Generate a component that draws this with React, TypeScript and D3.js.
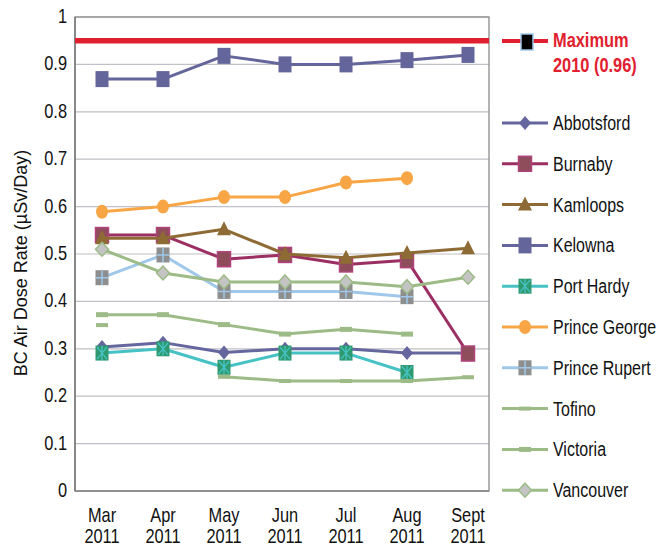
import * as d3 from "d3";

const months = ["Mar", "Apr", "May", "Jun", "Jul", "Aug", "Sept"];
const year = "2011";
const yTicks = [0, 0.1, 0.2, 0.3, 0.4, 0.5, 0.6, 0.7, 0.8, 0.9, 1];

const maximum2010 = 0.95;
const maximumLabel = ["Maximum", "2010 (0.96)"];

const abbotsford = [0.304, 0.313, 0.292, 0.3, 0.3, 0.291, 0.291];
const burnaby = [0.54, 0.54, 0.489, 0.498, 0.478, 0.487, 0.29];
const kamloops = [0.533, 0.533, 0.552, 0.5, 0.492, 0.502, 0.512];
const kelowna = [0.869, 0.869, 0.918, 0.9, 0.9, 0.909, 0.92];
const portHardy = [0.291, 0.3, 0.261, 0.291, 0.291, 0.25, null];
const princeGeorge = [0.589, 0.6, 0.62, 0.62, 0.651, 0.66, null];
const princeRupert = [0.45, 0.498, 0.421, 0.421, 0.421, 0.41, null];
const tofino = [0.35, null, 0.241, 0.232, 0.232, 0.232, 0.24];
const victoria = [0.372, 0.372, 0.351, 0.331, 0.341, 0.331, null];
const vancouver = [0.51, 0.46, 0.441, 0.441, 0.441, 0.431, 0.451];

type Marker = "diamond" | "square" | "triangle" | "squareX" | "circle" | "squarePlus" | "dash" | "dashBig" | "grayDiamond";

const series: { name: string; values: (number | null)[]; color: string; marker: Marker }[] = [
  { name: "Abbotsford", values: abbotsford, color: "#65669d", marker: "diamond" },
  { name: "Burnaby", values: burnaby, color: "#9c2f62", marker: "square" },
  { name: "Kamloops", values: kamloops, color: "#8e6b35", marker: "triangle" },
  { name: "Kelowna", values: kelowna, color: "#64659b", marker: "square" },
  { name: "Port Hardy", values: portHardy, color: "#46c2c4", marker: "squareX" },
  { name: "Prince George", values: princeGeorge, color: "#f8a545", marker: "circle" },
  { name: "Prince Rupert", values: princeRupert, color: "#9fc8ea", marker: "squarePlus" },
  { name: "Tofino", values: tofino, color: "#9dbb86", marker: "dash" },
  { name: "Victoria", values: victoria, color: "#9dbb86", marker: "dashBig" },
  { name: "Vancouver", values: vancouver, color: "#9dbb86", marker: "grayDiamond" },
];

const font = "'Liberation Sans', Arial, sans-serif";

// no narrow face installed, so squeeze Liberation Sans horizontally
function NarrowText(props: { x: number; y: number; size: number; anchor?: string; fill?: string; bold?: boolean; children: any }) {
  const { x, y, size, anchor = "start", fill = "#111", bold = false } = props;
  return (
    <g transform={`translate(${x},${y}) scale(0.82,1)`}>
      <text textAnchor={anchor} fontFamily={font} fontSize={size} fill={fill} fontWeight={bold ? "bold" : "normal"}>
        {props.children}
      </text>
    </g>
  );
}

function MarkerShape({ type, name, x, y, color }: { type: Marker; name: string; x: number; y: number; color: string }) {
  switch (type) {
    case "diamond":
      return <polygon points={`${x},${y - 7} ${x + 6},${y} ${x},${y + 7} ${x - 6},${y}`} fill={color} />;
    case "square":
      if (name === "Burnaby")
        return <rect x={x - 6.5} y={y - 7.5} width={13} height={15} fill="#8f4d5c" stroke="#b0437c" strokeWidth={1.5} />;
      return <rect x={x - 6.5} y={y - 8} width={13} height={16} fill={color} />;
    case "triangle":
      return <polygon points={`${x},${y - 8} ${x + 7},${y + 6} ${x - 7},${y + 6}`} fill={color} />;
    case "squareX":
      return (
        <g>
          <rect x={x - 6.5} y={y - 7.5} width={13} height={15} fill="#2f9a70" />
          <path d={`M${x - 5},${y - 6}L${x + 5},${y + 6}M${x + 5},${y - 6}L${x - 5},${y + 6}M${x},${y - 7}V${y + 7}`} stroke={color} strokeWidth={1.3} />
        </g>
      );
    case "circle":
      return <ellipse cx={x} cy={y} rx={6} ry={7} fill={color} />;
    case "squarePlus":
      return (
        <g>
          <rect x={x - 6.5} y={y - 7.5} width={13} height={15} fill="#8e8e8e" />
          <path d={`M${x - 6},${y}H${x + 6}M${x},${y - 7}V${y + 7}`} stroke={color} strokeWidth={1.5} />
        </g>
      );
    case "dash":
      return <rect x={x - 6} y={y - 2} width={12} height={4} fill={color} />;
    case "dashBig":
      return <rect x={x - 6} y={y - 2.5} width={12} height={5} fill={color} />;
    case "grayDiamond":
      return <polygon points={`${x},${y - 7} ${x + 6.5},${y} ${x},${y + 7} ${x - 6.5},${y}`} fill="#c4c4c4" stroke={color} strokeWidth={1.5} />;
  }
}

export default function App() {
  const width = 659;
  const height = 546;
  const plotLeft = 75;
  const plotRight = 489;
  const plotTop = 17;
  const plotBottom = 491;

  const x = d3.scalePoint<string>().domain(months).range([plotLeft + 27, plotRight - 21]);
  const y = d3.scaleLinear().domain([0, 1]).range([plotBottom, plotTop]);

  const line = d3
    .line<number | null>()
    .defined((d) => d != null)
    .x((_, i) => x(months[i]) as number)
    .y((d) => y(d as number));

  const legendX = 502;
  const legendY0 = 123;
  const legendStep = 40.8;

  return (
    <svg width={width} height={height} style={{ position: "fixed", left: 0, top: 0, background: "#fff" }}>
      {/* grid */}
      {yTicks.map((t) => (
        <g key={t}>
          <line x1={plotLeft} x2={plotRight} y1={y(t)} y2={y(t)} stroke={t === 0 ? "#7a7a7a" : "#c0c0c6"} strokeWidth={t === 0 ? 1.5 : 1.2} />
          <NarrowText x={67} y={y(t) + 6} size={20} anchor="end">
            {d3.format("~g")(t)}
          </NarrowText>
        </g>
      ))}
      <rect x={plotLeft} y={plotTop} width={plotRight - plotLeft} height={plotBottom - plotTop} fill="none" stroke="#8a8a8a" strokeWidth={1.3} />
      <line x1={plotLeft} x2={plotLeft} y1={plotTop} y2={plotBottom} stroke="#7a7a7a" strokeWidth={1.5} />

      <g transform={`translate(27,263) rotate(-90)`}>
        <text textAnchor="middle" fontFamily={font} fontSize={18} fill="#111">
          BC Air Dose Rate (µSv/Day)
        </text>
      </g>

      {months.map((m) => (
        <g key={m}>
          <NarrowText x={x(m) as number} y={522} size={20} anchor="middle">
            {m}
          </NarrowText>
          <NarrowText x={x(m) as number} y={543} size={20} anchor="middle">
            {year}
          </NarrowText>
        </g>
      ))}

      {/* maximum 2010 */}
      <line x1={plotLeft} x2={plotRight} y1={y(maximum2010)} y2={y(maximum2010)} stroke="#e0202e" strokeWidth={5.5} />

      {series.map((s) => (
        <g key={s.name}>
          <path d={line(s.values) ?? ""} fill="none" stroke={s.color} strokeWidth={3} strokeLinejoin="round" />
          {s.values.map((v, i) =>
            v == null ? null : <MarkerShape key={i} type={s.marker} name={s.name} x={x(months[i]) as number} y={y(v)} color={s.color} />
          )}
        </g>
      ))}

      {/* legend */}
      <g>
        <line x1={legendX} x2={legendX + 46} y1={41} y2={41} stroke="#e0202e" strokeWidth={4} />
        <rect x={legendX + 19} y={34} width={12} height={16} fill="#000" stroke="#9fc8ea" strokeWidth={1.5} />
        {maximumLabel.map((t, i) => (
          <NarrowText key={t} x={553} y={47 + i * 25} size={20} bold fill="#e0202e">
            {t}
          </NarrowText>
        ))}
        {series.map((s, i) => {
          const ly = legendY0 + i * legendStep;
          return (
            <g key={s.name}>
              <line x1={legendX} x2={legendX + 46} y1={ly} y2={ly} stroke={s.color} strokeWidth={3} />
              <MarkerShape type={s.marker} name={s.name} x={legendX + 23} y={ly} color={s.color} />
              <NarrowText x={553} y={ly + 7} size={19.5}>
                {s.name}
              </NarrowText>
            </g>
          );
        })}
      </g>
    </svg>
  );
}
